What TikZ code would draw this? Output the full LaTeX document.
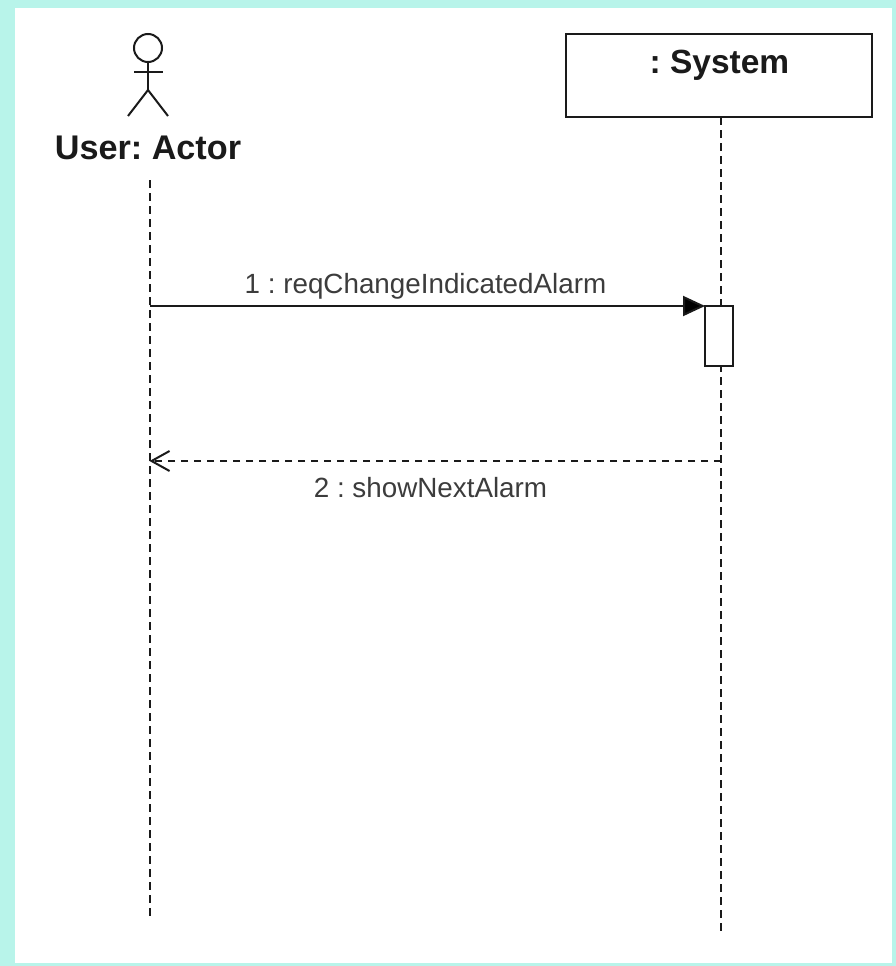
\documentclass[tikz,border=0pt]{standalone}
\usepackage{fontspec}
\setmainfont{Liberation Sans}
\usetikzlibrary{arrows.meta}
\frenchspacing
\definecolor{bgteal}{HTML}{B8F4EA}
\definecolor{ink}{HTML}{1A1A1A}
\tikzset{
  lifeline/.style={draw=ink,line width=2pt,dash pattern=on 7.5pt off 5.5pt},
  stick/.style={draw=ink,line width=2pt},
  titletext/.style={anchor=base,inner sep=0pt,text=ink,font=\frenchspacing\fontsize{33.5}{36}\selectfont\bfseries},
  actortext/.style={anchor=base,inner sep=0pt,text=ink,font=\frenchspacing\fontsize{34.2}{36}\selectfont\bfseries},
  msgtext/.style={anchor=base,inner sep=0pt,text=ink!85,font=\frenchspacing\fontsize{27.8}{30}\selectfont},
  objbox/.style={draw=ink,line width=2pt,fill=white,minimum width=306pt,minimum height=83pt,inner sep=0pt,outer sep=0pt},
  actbox/.style={draw=ink,line width=2pt,fill=white,minimum width=28pt,minimum height=60pt,inner sep=0pt,outer sep=0pt},
  headshape/.style={circle,draw=ink,line width=2pt,minimum size=28pt,inner sep=0pt,outer sep=0pt},
  callmsg/.style={draw=ink,line width=2pt,-{Triangle[length=22pt,width=20pt,fill=black]}},
  returnmsg/.style={draw=ink,line width=2pt,dash pattern=on 7.5pt off 5.5pt,-{Straight Barb[length=18pt,width=20pt,line width=2pt]}}
}
\begin{document}
\begin{tikzpicture}[x=1pt,y=-1pt]
\useasboundingbox (0,0) rectangle (896,966);
\fill[bgteal] (0,0) rectangle (896,966);
\fill[white] (15,8) rectangle (892,963);
% actor
\node[headshape] (head) at (148,48) {};
\coordinate (hip) at (148,90);
\coordinate (armL) at (134,72);
\coordinate (armR) at (163,72);
\coordinate (legL) at (128,116);
\coordinate (legR) at (168,116);
\draw[stick] (head.south) -- (hip);
\draw[stick] (armL) -- (armR);
\draw[stick] (legL) -- (hip) -- (legR);
\node[actortext] (userlabel) at (148,159) {User: Actor};
% system
\node[objbox] (system) at (719,75.5) {};
\node[titletext] (systemlabel) at (719.5,74) {: System};
% lifelines
\coordinate (userTop) at (149.5,180);
\coordinate (userEnd) at (149.5,917);
\coordinate (sysEnd) at (721,934);
\coordinate (sysTop) at (721,117);
\draw[lifeline] (userTop) -- (userEnd);
\draw[lifeline] (sysTop) -- (sysEnd);
% activation
\node[actbox] (act) at (719,336) {};
% messages
\coordinate (callStart) at (149.5,306);
\draw[callmsg] (callStart) -- (act.north west);
\coordinate (retStart) at (721,461);
\coordinate (retEnd) at (149.5,461);
\draw[returnmsg] (retStart) -- (retEnd);
\node[msgtext] (msgone) at (425.5,293) {1 : reqChangeIndicatedAlarm};
\node[msgtext] (msgtwo) at (430.5,497) {2 : showNextAlarm};
\end{tikzpicture}
\end{document}
